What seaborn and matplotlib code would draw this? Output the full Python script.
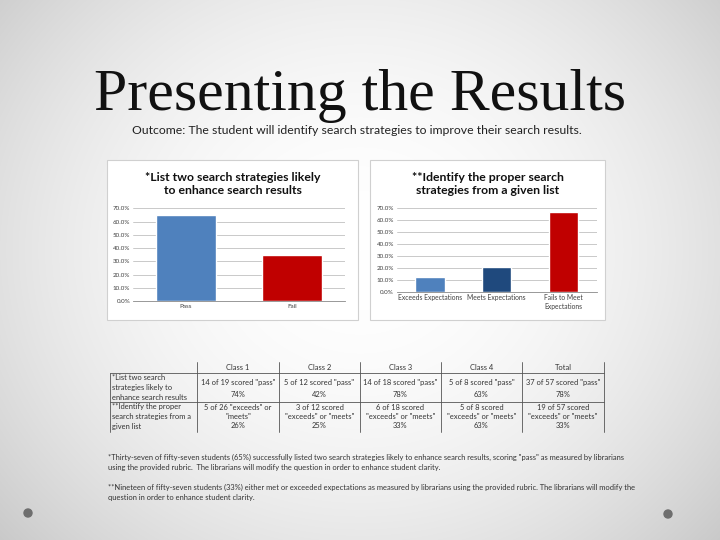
import numpy as np
import pandas as pd
import matplotlib
matplotlib.use("Agg")
import matplotlib.pyplot as plt
import seaborn as sns

sns.set_style("white")
plt.rcParams['font.family'] = ['Lato', 'DejaVu Sans']

# data
left_cats = ['Pass', 'Fail']
left_vals = [64.9, 35.1]
left_colors = ['#4F81BD', '#C00000']

right_cats = ['Exceeds Expectations', 'Meets Expectations', 'Fails to Meet\nExpectations']
right_vals = [12.3, 21.1, 66.7]
right_colors = ['#4F81BD', '#1F497D', '#C00000']

yticks = [0, 10, 20, 30, 40, 50, 60, 70]

table_header = ['Class 1', 'Class 2', 'Class 3', 'Class 4', 'Total']
row_labels = [['*List two search', 'strategies likely to', 'enhance search results'],
              ['**Identify the proper', 'search strategies from a', 'given list']]
row1_cells = [['14 of 19 scored "pass"', '74%'],
              ['5 of 12 scored "pass"', '42%'],
              ['14 of 18 scored "pass"', '78%'],
              ['5 of 8 scored "pass"', '63%'],
              ['37 of 57 scored "pass"', '78%']]
row2_cells = [['5 of 26 "exceeds" or', '"meets"', '26%'],
              ['3 of 12 scored', '"exceeds" or "meets"', '25%'],
              ['6 of 18 scored', '"exceeds" or "meets"', '33%'],
              ['5 of 8 scored', '"exceeds" or "meets"', '63%'],
              ['19 of 57 scored', '"exceeds" or "meets"', '33%']]

footnotes = [
    ['*Thirty-seven of fifty-seven students (65%) successfully listed two search strategies likely to enhance search results, scoring "pass" as measured by librarians',
     'using the provided rubric.  The librarians will modify the question in order to enhance student clarity.'],
    ['**Nineteen of fifty-seven students (33%) either met or exceeded expectations as measured by librarians using the provided rubric. The librarians will modify the',
     'question in order to enhance student clarity.'],
]

fig = plt.figure(figsize=(7.2, 5.4), dpi=100)

# background layer in pixel coordinates
bg = fig.add_axes([0, 0, 1, 1])
bg.set_xlim(0, 720)
bg.set_ylim(540, 0)
bg.axis('off')
yy, xx = np.mgrid[0:540, 0:720]
r = np.sqrt(((xx - 360) / 420.0) ** 2 + ((yy - 250) / 380.0) ** 2)
shade = 1 - 0.16 * np.clip(r, 0, 1.3) ** 2
bg.imshow(np.dstack([shade] * 3), extent=[0, 720, 540, 0], aspect='auto', zorder=0)

bg.text(360, 110, 'Presenting the Results', family='Liberation Serif', fontsize=43,
        ha='center', va='baseline', color='#111111')
bg.text(357, 130, 'Outcome: The student will identify search strategies to improve their search results.',
        fontsize=8.8, ha='center', va='center', color='#222222')

# chart panels
for x0, x1 in [(107, 358), (370, 605)]:
    bg.add_patch(plt.Rectangle((x0, 160), x1 - x0, 160, facecolor='white',
                               edgecolor='#d0d0d0', lw=0.8, zorder=1))

bg.text(233, 184, '*List two search strategies likely\nto enhance search results', fontsize=8.8,
        weight='bold', ha='center', va='center', linespacing=1.2, zorder=2, color='#111111')
bg.text(488, 184, '**Identify the proper search\nstrategies from a given list', fontsize=8.8,
        weight='bold', ha='center', va='center', linespacing=1.2, zorder=2, color='#111111')

# table
lc = '#555555'
cols = [197, 279, 360, 441, 522, 604]
bg.plot([110, 604], [373, 373], color=lc, lw=0.6, zorder=2)
bg.plot([110, 604], [402, 402], color=lc, lw=0.6, zorder=2)
bg.plot([110, 110], [373, 432], color=lc, lw=0.6, zorder=2)
for cx in cols:
    bg.plot([cx, cx], [362, 432], color=lc, lw=0.6, zorder=2)

tfs = 5.4
tcol = '#333333'
for i, h in enumerate(table_header):
    bg.text((cols[i] + cols[i + 1]) / 2, 367, h, fontsize=tfs, ha='center', va='center', color=tcol)
for j, line in enumerate(row_labels[0]):
    bg.text(112, 378 + j * 9.5, line, fontsize=tfs, ha='left', va='center', color=tcol)
for j, line in enumerate(row_labels[1]):
    bg.text(112, 407 + j * 9.5, line, fontsize=tfs, ha='left', va='center', color=tcol)
for i, cell in enumerate(row1_cells):
    cx = (cols[i] + cols[i + 1]) / 2
    bg.text(cx, 383, cell[0], fontsize=tfs, ha='center', va='center', color=tcol)
    bg.text(cx, 394.5, cell[1], fontsize=tfs, ha='center', va='center', color=tcol)
for i, cell in enumerate(row2_cells):
    cx = (cols[i] + cols[i + 1]) / 2
    for j, line in enumerate(cell):
        bg.text(cx, 407 + j * 9.5, line, fontsize=tfs, ha='center', va='center', color=tcol)

# footnotes
for k, note in enumerate(footnotes):
    for j, line in enumerate(note):
        bg.text(108, 457 + k * 30 + j * 10.5, line, fontsize=5.4, ha='left', va='center', color='#333333')

for cx, cy in [(28, 513), (668, 514)]:
    bg.add_patch(plt.Circle((cx, cy), 4, color='#6e6e6e', zorder=2))


def style_chart(ax):
    ax.set_facecolor('none')
    ax.set_ylim(0, 70)
    ax.set_yticks(yticks)
    ax.set_yticklabels(['%.1f%%' % v for v in yticks])
    ax.yaxis.grid(True, color='#c0c0c0', lw=0.6)
    ax.set_axisbelow(True)
    for s in ['top', 'right', 'left']:
        ax.spines[s].set_visible(False)
    ax.spines['bottom'].set_color('#888888')
    ax.spines['bottom'].set_linewidth(0.6)
    ax.tick_params(axis='both', length=0, labelsize=4.5, colors='#404040', pad=2)
    ax.set_xlabel('')
    ax.set_ylabel('')


ax1 = fig.add_axes([133 / 720, 1 - 301 / 540, 212 / 720, 92.7 / 540])
df1 = pd.DataFrame({'cat': left_cats, 'val': left_vals})
sns.barplot(data=df1, x='cat', y='val', hue='cat', palette=left_colors, width=0.56,
            saturation=1, legend=False, ax=ax1)
style_chart(ax1)

ax2 = fig.add_axes([396.7 / 720, 1 - 291.7 / 540, 200 / 720, 83.4 / 540])
df2 = pd.DataFrame({'cat': right_cats, 'val': right_vals})
sns.barplot(data=df2, x='cat', y='val', hue='cat', palette=right_colors, width=0.44,
            saturation=1, legend=False, ax=ax2)
style_chart(ax2)
ax2.tick_params(axis='x', labelsize=4.9)

fig.savefig('out.png', dpi=100)
